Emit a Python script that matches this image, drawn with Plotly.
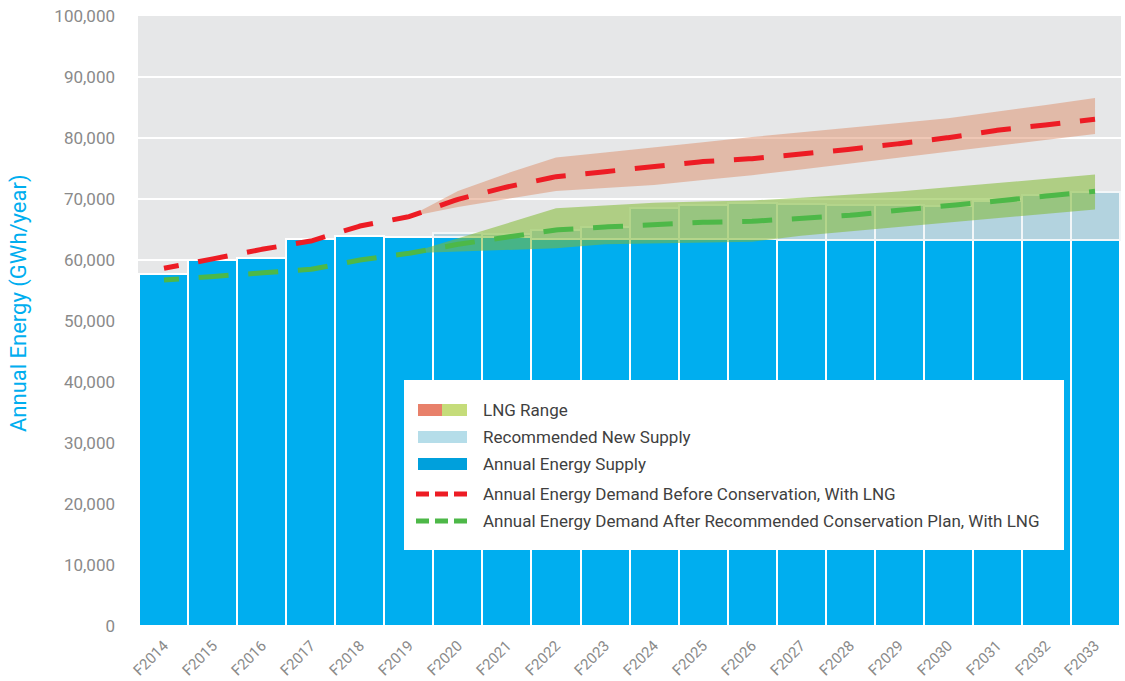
import plotly.graph_objects as go

# fiscal years on the x axis
categories = ["F2014", "F2015", "F2016", "F2017", "F2018", "F2019", "F2020",
              "F2021", "F2022", "F2023", "F2024", "F2025", "F2026", "F2027",
              "F2028", "F2029", "F2030", "F2031", "F2032", "F2033"]

# GWh/year
supply = [57750, 59950, 60330, 63440, 63990, 63820, 63820, 63700, 63500, 63500,
          63400, 63400, 63400, 63350, 63300, 63250, 63250, 63250, 63250, 63250]
new_supply = [None, None, None, None, None, None, 550, 600, 1370, 1960,
              5180, 5560, 5900, 5780, 5720, 5770, 5600, 6420, 7350, 7900]

demand_before = [58640, 60220, 61750, 63110, 65570, 67100, 69950, 71970, 73660, 74480,
                 75360, 76130, 76610, 77320, 78150, 79070, 80050, 81260, 82240, 83060]
demand_after = [56720, 57320, 58030, 58470, 60000, 61100, 62570, 63770, 64920, 65410,
                65850, 66180, 66340, 66830, 67320, 68150, 68850, 69670, 70490, 71260]

# LNG range bands (F2019 onwards)
band_cats = ["F2019", "F2020", "F2021", "F2022", "F2023", "F2024", "F2025", "F2026",
             "F2027", "F2028", "F2029", "F2030", "F2031", "F2032", "F2033"]
lng_hi_before = [67100, 71300, 74200, 76800, 77620, 78410, 79300, 80160,
                 80900, 81670, 82440, 83250, 84300, 85410, 86540]
lng_lo_before = [67100, 68700, 70000, 71300, 71820, 72300, 73100, 73900,
                 74840, 75800, 76780, 77750, 78720, 79690, 80660]
lng_hi_after = [61100, 63570, 66050, 68470, 68940, 69390, 69570, 69750,
                70200, 70720, 71250, 71920, 72620, 73310, 74000]
lng_lo_after = [61100, 61380, 61640, 61920, 62600, 62720, 62850, 62980,
                63980, 64700, 65410, 66130, 66840, 67560, 68280]

legend_labels = ["LNG Range", "Recommended New Supply", "Annual Energy Supply",
                 "Annual Energy Demand Before Conservation, With LNG",
                 "Annual Energy Demand After Recommended Conservation Plan, With LNG"]

BLUE = "#00aeef"
LIGHT_BLUE = "#b3d3df"
RED = "#ed1c24"
GREEN = "#4db848"
FONT = "Roboto"

W, H = 1125, 681
# plot area in pixels, used to place the hand-made legend
L, R, T, B = 138, 1121, 16, 626


def px(x):
    return (x - L) / (R - L)


def py(y):
    return (B - y) / (B - T)


fig = go.Figure()

fig.add_trace(go.Bar(x=categories, y=supply, marker=dict(color=BLUE, line=dict(color="white", width=2)),
                     showlegend=False))
fig.add_trace(go.Bar(x=categories, y=new_supply, marker=dict(color=LIGHT_BLUE, line=dict(color="#f2f6f8", width=2)),
                     showlegend=False))

for lo, hi, fc in [(lng_lo_before, lng_hi_before, "rgba(220,130,90,0.45)"),
                   (lng_lo_after, lng_hi_after, "rgba(130,185,50,0.55)")]:
    fig.add_trace(go.Scatter(x=band_cats, y=lo, mode="lines", line=dict(width=0),
                             showlegend=False, hoverinfo="skip"))
    fig.add_trace(go.Scatter(x=band_cats, y=hi, mode="lines", line=dict(width=0),
                             fill="tonexty", fillcolor=fc, showlegend=False, hoverinfo="skip"))

for vals, col in [(demand_before, RED), (demand_after, GREEN)]:
    fig.add_trace(go.Scatter(x=categories, y=vals, mode="lines",
                             line=dict(color=col, width=5, dash="15px,19.75px,15px,0px"),
                             showlegend=False))

# legend box drawn by hand (two-colour swatch for LNG Range)
shapes = [dict(type="rect", xref="paper", yref="paper", x0=px(404), x1=px(1064), y0=py(550), y1=py(380),
               fillcolor="white", line=dict(width=0), layer="above")]
swatches = [(418, 442, 404, 416, "#e8806a"), (442, 467, 404, 416, "#c5dc7a"),
            (418, 467, 431, 443, "#b5dde9"), (418, 467, 458, 470, "#00a0dc")]
for x0, x1, y0, y1, c in swatches:
    shapes.append(dict(type="rect", xref="paper", yref="paper", x0=px(x0), x1=px(x1), y0=py(y1), y1=py(y0),
                       fillcolor=c, line=dict(width=0), layer="above"))
for y, c in [(494, RED), (521, GREEN)]:
    shapes.append(dict(type="line", xref="paper", yref="paper", x0=px(416), x1=px(467), y0=py(y), y1=py(y),
                       line=dict(color=c, width=5, dash="13px,6px"), layer="above"))

annotations = []
for lab, y in zip(legend_labels, [410, 437, 464, 494, 521]):
    annotations.append(dict(text=lab, xref="paper", yref="paper", x=px(481), y=py(y), xanchor="left",
                            yanchor="middle", showarrow=False, font=dict(family=FONT, size=17, color="#3f3f3f")))
annotations.append(dict(text="Annual Energy (GWh/year)", xref="paper", yref="paper", x=px(19), y=py(303),
                        textangle=-90, xanchor="center", yanchor="middle", showarrow=False,
                        font=dict(family=FONT, size=22, color=BLUE)))

fig.update_layout(
    width=W, height=H,
    margin=dict(l=L, r=W - R, t=T, b=H - B),
    barmode="stack", bargap=0,
    plot_bgcolor="#e6e7e8", paper_bgcolor="white",
    shapes=shapes, annotations=annotations,
    xaxis=dict(range=[-0.53, 19.53], tickangle=-45, showgrid=False, ticklabelstandoff=7,
               automargin=False, tickfont=dict(family=FONT, size=15, color="#8a8a8a")),
    yaxis=dict(range=[0, 100000], dtick=10000, tickformat=",", gridcolor="white", gridwidth=2,
               zeroline=False, ticklabelstandoff=22, automargin=False,
               tickfont=dict(family=FONT, size=17, color="#8a8a8a")),
)

# drop the default 8px body margin so the figure sits at the window's corner
fig.write_html("out.html", config={"displayModeBar": False},
               post_script="document.body.style.margin = '0';")
